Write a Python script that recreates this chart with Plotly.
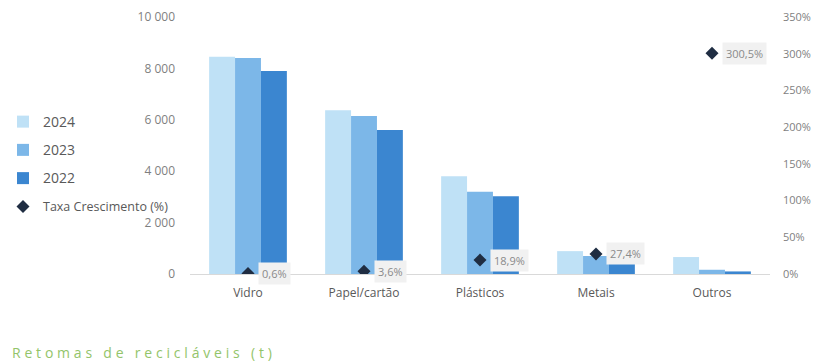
import plotly.graph_objects as go

# Categories and series
categorias = ["Vidro", "Papel/cartão", "Plásticos", "Metais", "Outros"]
anos = ["2024", "2023", "2022"]
valores_2024 = [8450, 6370, 3800, 890, 660]
valores_2023 = [8400, 6150, 3196, 700, 165]
valores_2022 = [7900, 5600, 3030, 390, 100]
taxa_crescimento = [0.6, 3.6, 18.9, 27.4, 300.5]

# Axis ticks
ticks_toneladas = [0, 2000, 4000, 6000, 8000, 10000]
ticks_taxa = [0, 50, 100, 150, 200, 250, 300, 350]

cores = ["#bfe1f6", "#7cb7e8", "#3b86d0"]
serie_valores = [valores_2024, valores_2023, valores_2022]

FONT = "Open Sans"
fig = go.Figure()

for ano, vals, cor in zip(anos, serie_valores, cores):
    fig.add_trace(go.Bar(
        x=categorias, y=vals,
        name=f'<span style="font-size:14px">{ano}</span>',
        marker=dict(color=cor, line=dict(width=0)),
        legendgroup=ano, yaxis="y",
    ))

fig.add_trace(go.Scatter(
    x=categorias, y=taxa_crescimento, name="Taxa Crescimento (%)",
    mode="markers", marker=dict(symbol="diamond", size=10, color="#1f2d42"),
    yaxis="y2", legendgroup="taxa",
))

# Value labels for the growth rate
for cat, v in zip(categorias, taxa_crescimento):
    fig.add_annotation(
        x=cat, y=v, xref="x", yref="y2",
        text=f"{v:.1f}%".replace(".", ","),
        showarrow=False, xanchor="left", yanchor="middle", xshift=10,
        bgcolor="#f1f1f1", borderpad=3,
        font=dict(family=FONT, size=11, color="#8a8a8a"),
    )

W, H = 821, 361
ml, mr, mt, mb = 190, 51, 17, 87
pw, ph = W - ml - mr, H - mt - mb

# Chart title at the bottom left
fig.add_annotation(
    x=(10 - ml) / pw, y=(H - 352 - mb) / ph, xref="paper", yref="paper",
    text='<span style="letter-spacing:3.8px">Retomas de recicláveis (t)</span>',
    showarrow=False, xanchor="left", yanchor="middle",
    font=dict(family=FONT, size=14, color="#93c46a"),
)

fig.update_layout(
    width=W, height=H,
    margin=dict(l=ml, r=mr, t=mt, b=mb, autoexpand=False),
    paper_bgcolor="white", plot_bgcolor="white",
    separators=", ",
    barmode="group", bargap=0.33, bargroupgap=0,
    font=dict(family=FONT, size=12, color="#595959"),
    showlegend=True,
    legend=dict(
        xref="container", yref="container",
        x=3 / W, y=1 - 107 / H, xanchor="left", yanchor="top",
        tracegroupgap=9, traceorder="grouped",
        font=dict(family=FONT, size=12.5, color="#595959"),
        bgcolor="rgba(0,0,0,0)", itemwidth=30,
    ),
    xaxis=dict(
        showline=True, linecolor="#d9d9d9", linewidth=1, ticks="",
        ticklabelstandoff=8,
        tickfont=dict(family=FONT, size=12, color="#595959"),
        showgrid=False,
    ),
    yaxis=dict(
        range=[0, 10000], tickvals=ticks_toneladas,
        tickformat=",d", showgrid=False, zeroline=False, showline=False,
        ticks="", ticklabelstandoff=14,
        tickfont=dict(family=FONT, size=12, color="#7f7f7f"),
    ),
    yaxis2=dict(
        range=[0, 350], tickmode="array", tickvals=ticks_taxa,
        ticktext=[f"{t}%" for t in ticks_taxa],
        overlaying="y", side="right", showgrid=False,
        zeroline=False, showline=False, ticks="", ticklabelstandoff=12,
        tickfont=dict(family=FONT, size=11, color="#7f7f7f"),
    ),
)

fig.write_html("out.html")
